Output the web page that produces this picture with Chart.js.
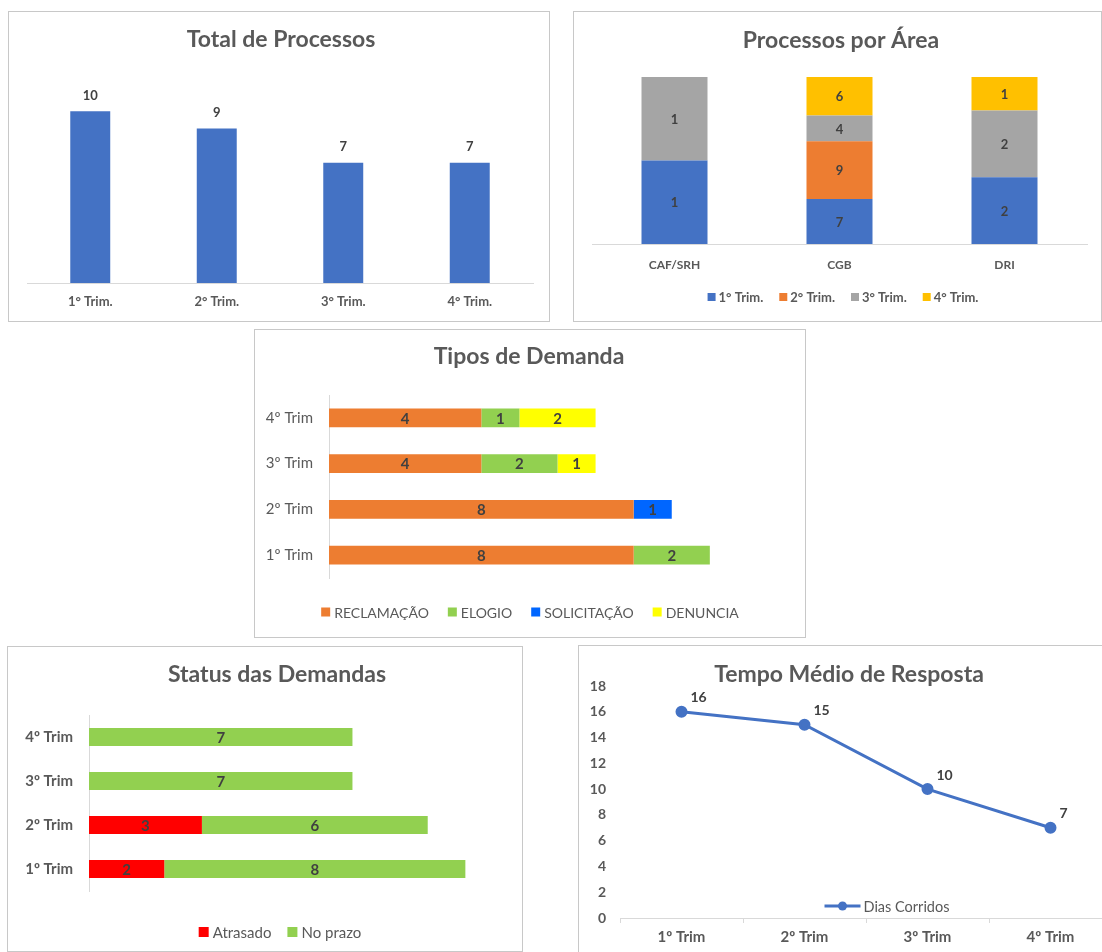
<!DOCTYPE html>
<html>
<head>
<meta charset="utf-8">
<script src="https://cdn.jsdelivr.net/npm/chart.js@4.4.1/dist/chart.umd.min.js"></script>
<style>
  html, body { margin:0; padding:0; background:#fff; }
  body { width:1102px; height:952px; overflow:hidden; position:relative; }
  .panel { position:absolute; border:1px solid #c8c8c8; box-sizing:border-box; background:#fff; }
  .panel canvas { display:block; }
</style>
</head>
<body>
<div class="panel" style="left:8px;top:11px;width:542px;height:311px;"><canvas id="c1"></canvas></div>
<div class="panel" style="left:573px;top:11px;width:529px;height:311px;"><canvas id="c2"></canvas></div>
<div class="panel" style="left:254px;top:329px;width:552px;height:309px;"><canvas id="c3"></canvas></div>
<div class="panel" style="left:7px;top:646px;width:516px;height:306px;"><canvas id="c4"></canvas></div>
<div class="panel" style="left:578px;top:645px;width:560px;height:310px;"><canvas id="c5"></canvas></div>
<script>
// ---------------- DATA ----------------
const totalLabels = ['1° Trim.', '2° Trim.', '3° Trim.', '4° Trim.'];
const totalValues = [10, 9, 7, 7];

const areaLabels = ['CAF/SRH', 'CGB', 'DRI'];
const areaSeriesNames = ['1° Trim.', '2° Trim.', '3° Trim.', '4° Trim.'];
const area1Trim = [1, 7, 2];
const area2Trim = [null, 9, null];
const area3Trim = [1, 4, 2];
const area4Trim = [null, 6, 1];

const demandaLabels = ['1º Trim', '2º Trim', '3º Trim', '4º Trim'];
const reclamacao = [8, 8, 4, 4];
const elogio = [2, null, 2, 1];
const solicitacao = [null, 1, null, null];
const denuncia = [null, null, 1, 2];

const statusLabels = ['1º Trim', '2º Trim', '3º Trim', '4º Trim'];
const atrasado = [2, 3, null, null];
const noPrazo = [8, 6, 7, 7];

const tempoLabels = ['1º Trim', '2º Trim', '3º Trim', '4º Trim'];
const diasCorridos = [16, 15, 10, 7];
const tempoTicks = { min: 0, max: 18, step: 2 };

// ---------------- STYLE ----------------
const FONT = 'Lato, "Open Sans", sans-serif';
const TXT = '#595959';
const LBL = '#404040';
Chart.defaults.font.family = FONT;
Chart.defaults.color = TXT;
Chart.defaults.animation = false;

const decor = {
  id: 'decor',
  afterDatasetsDraw(chart, args, o) {
    const ctx = chart.ctx;
    if (!o.labels) return;
    ctx.save();
    ctx.fillStyle = LBL;
    ctx.font = 'bold ' + (o.labelSize || 12) + 'px ' + FONT;
    ctx.textBaseline = 'middle';
    chart.data.datasets.forEach((ds, i) => {
      const meta = chart.getDatasetMeta(i);
      meta.data.forEach((el, j) => {
        const raw = ds.raw ? ds.raw[j] : ds.data[j];
        if (raw == null || raw === 0) return;
        let x, y;
        if (o.labels === 'center') {
          const p = el.getCenterPoint(); x = p.x; y = p.y + 1; ctx.textAlign = 'center';
        } else if (o.labels === 'top') {
          x = el.x; y = el.y - 16; ctx.textAlign = 'center';
        } else {
          x = el.x + 9; y = el.y - 14; ctx.textAlign = 'left';
        }
        ctx.fillText(String(raw), x, y);
      });
    });
    ctx.restore();
  },
  afterDraw(chart, args, o) {
    const ctx = chart.ctx;
    ctx.save();
    if (o.title) {
      ctx.fillStyle = TXT;
      ctx.font = 'bold ' + (o.titleSize || 23) + 'px ' + FONT;
      ctx.textAlign = 'center';
      ctx.textBaseline = 'middle';
      ctx.fillText(o.title, o.titleX, o.titleY);
    }
    if (o.legend) {
      const L = o.legend;
      ctx.font = (L.bold ? 'bold ' : '') + L.size + 'px ' + FONT;
      ctx.textBaseline = 'middle';
      ctx.textAlign = 'left';
      const widths = L.items.map(it => (it.line ? 36 : L.box) + L.gapText + ctx.measureText(it.text).width);
      const total = widths.reduce((a, b) => a + b, 0) + L.gap * (L.items.length - 1);
      let x = L.cx - total / 2;
      L.items.forEach((it, k) => {
        if (it.line) {
          ctx.strokeStyle = it.color; ctx.lineWidth = 3;
          ctx.beginPath(); ctx.moveTo(x, L.cy); ctx.lineTo(x + 36, L.cy); ctx.stroke();
          ctx.fillStyle = it.color;
          ctx.beginPath(); ctx.arc(x + 18, L.cy, 4.5, 0, Math.PI * 2); ctx.fill();
          x += 36;
        } else {
          ctx.fillStyle = it.color;
          ctx.fillRect(x, L.cy - L.box / 2, L.box, L.box);
          x += L.box;
        }
        x += L.gapText;
        ctx.fillStyle = TXT;
        ctx.fillText(it.text, x, L.cy + 1);
        x += ctx.measureText(it.text).width + L.gap;
      });
    }
    ctx.restore();
  }
};

const base = (extra) => Object.assign({
  responsive: true,
  maintainAspectRatio: false,
  animation: false,
  events: []
}, extra);

// ---------------- CHART 1 ----------------
new Chart(document.getElementById('c1'), {
  type: 'bar',
  data: { labels: totalLabels, datasets: [{ data: totalValues, backgroundColor: '#4472C4', barPercentage: 0.316, categoryPercentage: 1 }] },
  options: base({
    layout: { padding: { top: 65, left: 18, right: 16, bottom: 0 } },
    plugins: { legend: { display: false }, tooltip: { enabled: false },
      decor: { title: 'Total de Processos', titleX: 272, titleY: 28, labels: 'top', labelSize: 13 } },
    scales: {
      x: { grid: { display: false, drawTicks: false }, border: { color: '#d9d9d9', width: 1 },
        ticks: { color: TXT, font: { size: 13, weight: 'bold' }, padding: 11 },
        afterFit(s) { s.height = 38; } },
      y: { display: false, min: 0, max: 12 }
    }
  }),
  plugins: [decor]
});

// ---------------- CHART 2 (100% stacked) ----------------
const areaSeries = [area1Trim, area2Trim, area3Trim, area4Trim];
const areaColors = ['#4472C4', '#ED7D31', '#A5A5A5', '#FFC000'];
const areaTotals = areaLabels.map((_, j) => areaSeries.reduce((s, a) => s + (a[j] || 0), 0));
new Chart(document.getElementById('c2'), {
  type: 'bar',
  data: {
    labels: areaLabels,
    datasets: areaSeries.map((arr, i) => ({
      label: areaSeriesNames[i],
      raw: arr,
      data: arr.map((v, j) => v == null ? null : v / areaTotals[j] * 100),
      backgroundColor: areaColors[i],
      barPercentage: 0.4, categoryPercentage: 1
    }))
  },
  options: base({
    layout: { padding: { top: 65, left: 18, right: 14, bottom: 0 } },
    plugins: { legend: { display: false }, tooltip: { enabled: false },
      decor: { title: 'Processos por Área', titleX: 267, titleY: 29, labels: 'center', labelSize: 13,
        legend: { cx: 269, cy: 285, size: 13, bold: true, box: 8, gapText: 3, gap: 16,
          items: areaSeriesNames.map((n, i) => ({ text: n, color: areaColors[i] })) } } },
    scales: {
      x: { stacked: true, grid: { display: false, drawTicks: false }, border: { color: '#d9d9d9' },
        ticks: { color: TXT, font: { size: 12, weight: 'bold' }, padding: 14 },
        afterFit(s) { s.height = 77; } },
      y: { stacked: true, display: false, min: 0, max: 100 }
    }
  }),
  plugins: [decor]
});

// ---------------- CHART 3 ----------------
const demSeries = [
  { label: 'RECLAMAÇÃO', data: reclamacao, color: '#ED7D31' },
  { label: 'ELOGIO', data: elogio, color: '#92D050' },
  { label: 'SOLICITAÇÃO', data: solicitacao, color: '#0066FF' },
  { label: 'DENUNCIA', data: denuncia, color: '#FFFF00' }
];
new Chart(document.getElementById('c3'), {
  type: 'bar',
  data: {
    labels: demandaLabels,
    datasets: demSeries.map(s => ({ label: s.label, data: s.data, backgroundColor: s.color, barPercentage: 0.41, categoryPercentage: 1 }))
  },
  options: base({
    indexAxis: 'y',
    layout: { padding: { top: 65, left: 0, right: 19, bottom: 59 } },
    plugins: { legend: { display: false }, tooltip: { enabled: false },
      decor: { title: 'Tipos de Demanda', titleX: 274, titleY: 27, labels: 'center', labelSize: 15,
        legend: { cx: 275, cy: 282, size: 14, bold: false, box: 9, gapText: 4, gap: 19,
          items: demSeries.map(s => ({ text: s.label, color: s.color })) } } },
    scales: {
      x: { stacked: true, display: false, min: 0, max: 12 },
      y: { stacked: true, reverse: true, grid: { display: false, drawTicks: false }, border: { color: '#d9d9d9' },
        ticks: { color: TXT, font: { size: 15 }, padding: 16 },
        afterFit(s) { s.width = 74; } }
    }
  }),
  plugins: [decor]
});

// ---------------- CHART 4 ----------------
const stSeries = [
  { label: 'Atrasado', data: atrasado, color: '#FF0000' },
  { label: 'No prazo', data: noPrazo, color: '#92D050' }
];
new Chart(document.getElementById('c4'), {
  type: 'bar',
  data: {
    labels: statusLabels,
    datasets: stSeries.map(s => ({ label: s.label, data: s.data, backgroundColor: s.color, barPercentage: 0.41, categoryPercentage: 1 }))
  },
  options: base({
    indexAxis: 'y',
    layout: { padding: { top: 68, left: 0, right: 19, bottom: 60 } },
    plugins: { legend: { display: false }, tooltip: { enabled: false },
      decor: { title: 'Status das Demandas', titleX: 269, titleY: 28, labels: 'center', labelSize: 15,
        legend: { cx: 272, cy: 285, size: 15, bold: false, box: 10, gapText: 4, gap: 16,
          items: stSeries.map(s => ({ text: s.label, color: s.color })) } } },
    scales: {
      x: { stacked: true, display: false, min: 0, max: 11 },
      y: { stacked: true, reverse: true, grid: { display: false, drawTicks: false }, border: { color: '#d9d9d9' },
        ticks: { color: TXT, font: { size: 15, weight: 'bold' }, padding: 16 },
        afterFit(s) { s.width = 81; } }
    }
  }),
  plugins: [decor]
});

// ---------------- CHART 5 ----------------
new Chart(document.getElementById('c5'), {
  type: 'line',
  data: {
    labels: tempoLabels,
    datasets: [{ label: 'Dias Corridos', data: diasCorridos, borderColor: '#4472C4', backgroundColor: '#4472C4',
      borderWidth: 3, pointRadius: 4.5, pointBackgroundColor: '#4472C4', pointBorderColor: '#4472C4', tension: 0 }]
  },
  options: base({
    layout: { padding: { top: 40, left: 0, right: 25, bottom: 0 } },
    plugins: { legend: { display: false }, tooltip: { enabled: false },
      decor: { title: 'Tempo Médio de Resposta', titleX: 270, titleY: 29, labels: 'rightAbove', labelSize: 14,
        legend: { cx: 308, cy: 260, size: 14.5, bold: false, box: 9, gapText: 3, gap: 16,
          items: [{ text: 'Dias Corridos', color: '#4472C4', line: true }] } } },
    scales: {
      x: { offset: true, grid: { display: true, offset: true, drawOnChartArea: false, drawTicks: true, tickLength: 5, color: '#d9d9d9' },
        border: { color: '#d9d9d9' },
        ticks: { color: TXT, font: { size: 15, weight: 'bold' }, padding: 5 },
        afterFit(s) { s.height = 36; } },
      y: { min: tempoTicks.min, max: tempoTicks.max, grid: { display: false, drawTicks: false }, border: { display: false },
        ticks: { stepSize: tempoTicks.step, color: TXT, font: { size: 14, weight: 'bold' }, padding: 14 },
        afterFit(s) { s.width = 41; } }
    }
  }),
  plugins: [decor]
});
</script>
</body>
</html>
